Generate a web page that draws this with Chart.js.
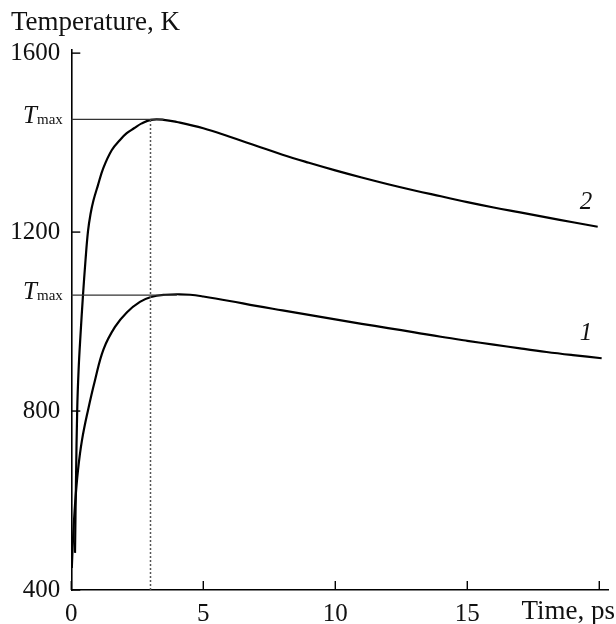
<!DOCTYPE html>
<html><head><meta charset="utf-8">
<script src="https://cdn.jsdelivr.net/npm/chart.js@4.4.1/dist/chart.umd.min.js"></script>
<style>html,body{margin:0;padding:0;background:#fff;overflow:hidden}</style>
</head><body>
<canvas id="c" width="616" height="624" style="width:616px;height:624px;display:block"></canvas>
<script>
// ---- data ----
const time1 = [0.019, 0.064, 0.14, 0.254, 0.405, 0.633, 0.898, 1.22, 1.655, 2.11, 2.6, 3.02, 3.55, 4.1, 4.5, 5.0, 6.0, 7.0, 8.0, 9.0, 10.0, 11.0, 12.0, 13.0, 14.0, 15.0, 16.0, 17.0, 18.0, 19.0, 20.09];
const temp1 = [449, 512, 590, 668, 735, 802, 869, 938, 988, 1021, 1044, 1055, 1060, 1061, 1060, 1056, 1046, 1035, 1025, 1015, 1005, 995, 985.5, 976, 966, 957, 948.5, 940, 932, 925, 918];
const time2 = [0.14, 0.178, 0.2235, 0.2765, 0.3485, 0.443, 0.538, 0.633, 0.727, 0.841, 1.011, 1.212, 1.53, 1.845, 2.1, 2.375, 2.667, 3.02, 3.5, 4.0, 5.0, 6.0, 7.0, 8.0, 9.0, 10.0, 11.0, 12.0, 13.0, 14.0, 15.0, 16.0, 17.0, 18.0, 19.0, 19.94];
const temp2 = [483, 646, 802, 892, 970, 1059, 1137, 1202, 1240, 1271, 1305, 1343, 1383, 1406, 1421, 1432, 1443, 1451, 1451, 1446, 1432, 1413, 1393, 1373, 1355, 1338, 1322, 1307, 1293, 1280, 1267, 1255, 1244, 1233, 1222, 1212];
const xTicks = [0, 5, 10, 15, 20];
const xTickLabels = ['0', '5', '10', '15', ''];
const yTicks = [400, 800, 1200, 1600];
const yTickLabels = ['400', '800', '1200', '1600'];
const tPeak = 3.0;          // dotted marker time, ps
const tMax2 = 1452;         // T_max of curve 2
const tMax1 = 1059;         // T_max of curve 1
const tMaxLineEnd2 = 3.5;
const tMaxLineEnd1 = 4.0;
const curveNames = ['1', '2'];
const xRange = [0, 20.33];
const yRange = [400, 1607];

const pts = (xs, ys) => xs.map((x, i) => ({x, y: ys[i]}));
const FONT = '"Liberation Serif", "Times New Roman", serif';

const decor = {
  id: 'decor',
  afterDraw(chart) {
    const ctx = chart.ctx, xs = chart.scales.x, ys = chart.scales.y;
    ctx.save();
    ctx.strokeStyle = '#000';
    ctx.lineWidth = 1.4;
    xs.ticks.forEach(t => {
      const px = xs.getPixelForValue(t.value);
      ctx.beginPath(); ctx.moveTo(px, ys.bottom); ctx.lineTo(px, ys.bottom - 9); ctx.stroke();
    });
    ys.ticks.forEach(t => {
      const py = ys.getPixelForValue(t.value);
      ctx.beginPath(); ctx.moveTo(xs.left, py); ctx.lineTo(xs.left + 9, py); ctx.stroke();
    });
    ctx.fillStyle = '#111';
    // axis titles
    ctx.font = '27px ' + FONT;
    ctx.textAlign = 'left'; ctx.textBaseline = 'alphabetic';
    ctx.fillText('Temperature, K', 11, 30);
    ctx.textAlign = 'right';
    ctx.fillText('Time, ps', 615, 619);
    // T_max labels
    [tMax2, tMax1].forEach(v => {
      const py = ys.getPixelForValue(v) + 4;
      ctx.font = 'italic 25px ' + FONT;
      ctx.textAlign = 'right';
      ctx.fillText('T', 37, py);
      ctx.font = '15px ' + FONT;
      ctx.textAlign = 'left';
      ctx.fillText('max', 37, py + 1);
    });
    // curve labels
    ctx.font = 'italic 25px ' + FONT;
    ctx.textAlign = 'center'; ctx.textBaseline = 'middle';
    ctx.fillText(curveNames[1], xs.getPixelForValue(19.5), ys.getPixelForValue(1267));
    ctx.fillText(curveNames[0], xs.getPixelForValue(19.5), ys.getPixelForValue(974));
    ctx.restore();
  }
};

new Chart(document.getElementById('c'), {
  type: 'scatter',
  data: {
    datasets: [
      {data: pts([0, tMaxLineEnd2], [tMax2, tMax2]), showLine: true, borderColor: '#333', borderWidth: 1.2, pointRadius: 0, tension: 0},
      {data: pts([0, tMaxLineEnd1], [tMax1, tMax1]), showLine: true, borderColor: '#333', borderWidth: 1.2, pointRadius: 0, tension: 0},
      {data: pts([tPeak, tPeak], [yRange[0], tMax2]), showLine: true, borderColor: '#555', borderWidth: 1.5, borderDash: [2, 2], pointRadius: 0},
      {data: pts(time1, temp1), showLine: true, borderColor: '#000', borderWidth: 2.2, pointRadius: 0, tension: 0.4, capBezierPoints: true},
      {data: pts(time2, temp2), showLine: true, borderColor: '#000', borderWidth: 2.2, pointRadius: 0, tension: 0.4, capBezierPoints: true}
    ]
  },
  options: {
    responsive: false,
    animation: false,
    devicePixelRatio: 1,
    layout: {padding: {left: 0, right: 8, top: 50, bottom: 0}},
    plugins: {legend: {display: false}, tooltip: {enabled: false}, title: {display: false}},
    scales: {
      x: {
        type: 'linear', min: xRange[0], max: xRange[1],
        afterBuildTicks: s => { s.ticks = xTicks.map(v => ({value: v})); },
        afterFit: s => { s.height = 34; },
        grid: {display: false, drawTicks: false},
        border: {display: true, color: '#000', width: 1.6},
        ticks: {
          padding: 9, color: '#111', font: {family: FONT, size: 25},
          maxRotation: 0, autoSkip: false,
          callback: (v) => xTickLabels[xTicks.indexOf(v)] ?? ''
        }
      },
      y: {
        type: 'linear', min: yRange[0], max: yRange[1],
        afterBuildTicks: s => { s.ticks = yTicks.map(v => ({value: v})); },
        afterFit: s => { s.width = 71.3; },
        grid: {display: false, drawTicks: false},
        border: {display: true, color: '#000', width: 1.6},
        ticks: {
          padding: 11, color: '#111', font: {family: FONT, size: 25},
          autoSkip: false,
          callback: (v) => yTickLabels[yTicks.indexOf(v)] ?? ''
        }
      }
    }
  },
  plugins: [decor]
});
</script>
</body></html>
